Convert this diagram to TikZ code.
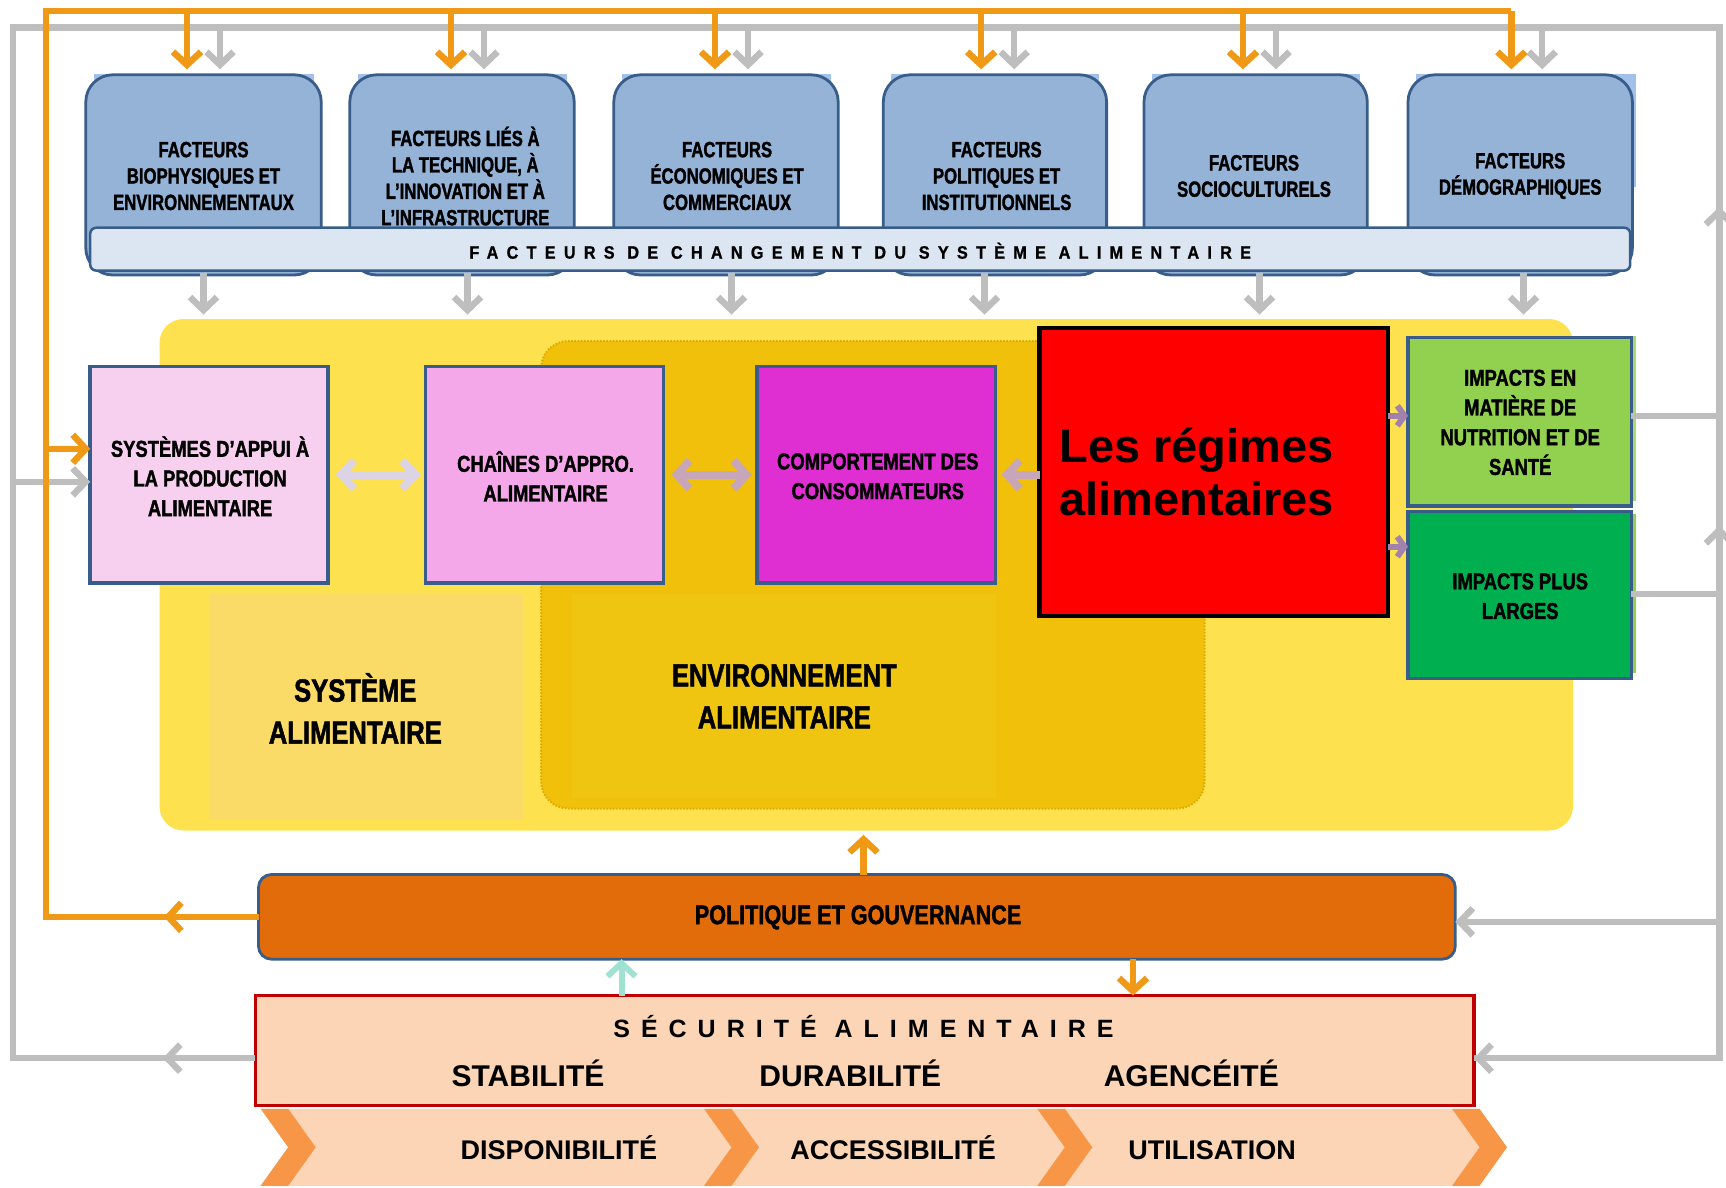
\documentclass[tikz,border=0pt]{standalone}
\usepackage{fontspec}
\setmainfont{Liberation Sans}
\newfontfamily\condf{Liberation Sans Bold}[FakeStretch=0.8,FakeBold=1.5]
\newfontfamily\condg{Liberation Sans Bold}[FakeStretch=0.76,FakeBold=1.5]
\newfontfamily\spacedf{Liberation Sans Bold}[LetterSpace=46,FakeStretch=0.9,FakeBold=1]
\newfontfamily\spacedg{Liberation Sans Bold}[LetterSpace=44]
\usetikzlibrary{arrows.meta,fit}
\definecolor{lgray}{RGB}{190,190,190}
\definecolor{lorange}{RGB}{240,153,22}
\definecolor{fblue}{RGB}{149,179,215}
\definecolor{fborder}{RGB}{56,93,138}
\definecolor{fback}{RGB}{162,192,234}
\definecolor{bannerc}{RGB}{220,230,242}
\definecolor{ybig}{RGB}{253,225,78}
\definecolor{ylight}{RGB}{250,219,104}
\definecolor{envc}{RGB}{241,192,10}
\definecolor{envin}{RGB}{239,197,18}
\definecolor{envdot}{RGB}{222,170,0}
\definecolor{pinka}{RGB}{246,208,238}
\definecolor{pinkb}{RGB}{245,168,233}
\definecolor{magc}{RGB}{223,47,210}
\definecolor{lgreen}{RGB}{146,208,80}
\definecolor{dgreen}{RGB}{0,176,80}
\definecolor{polc}{RGB}{227,108,10}
\definecolor{peach}{RGB}{251,213,181}
\definecolor{chev}{RGB}{247,150,70}
\definecolor{secred}{RGB}{192,0,0}
\definecolor{tealc}{RGB}{160,226,210}
\definecolor{arra}{RGB}{220,211,228}
\definecolor{arrb}{RGB}{200,166,186}
\definecolor{arrc}{RGB}{160,130,172}
\begin{document}
\begin{tikzpicture}[x=1.1pt,y=-1.1pt,
  gline/.style={draw=lgray,line width=6.5pt},
  oline/.style={draw=lorange,line width=6.5pt},
  gt/.tip={Straight Barb[length=13pt,width=27pt]},
  ot/.tip={Straight Barb[length=13pt,width=28pt]},
  pt/.tip={Straight Barb[length=13pt,width=28pt]},
  plain/.style={inner sep=0pt,outer sep=0pt},
  fbox/.style={plain,draw=fborder,fill=fblue,line width=2.8pt,rounded corners=27pt},
  ftxt/.style={inner sep=0pt,font=\condg\fontsize{22}{26.4}\selectfont,align=center},
  sbox/.style={plain,draw=fborder,line width=3.5pt},
  btxt/.style={inner sep=0pt,font=\condf\fontsize{23}{29.7}\selectfont,align=center},
  bigtxt/.style={inner sep=0pt,font=\condf\fontsize{32}{42}\selectfont,align=center},
  sectxt/.style={inner sep=0pt,anchor=base,font=\bfseries\fontsize{30}{32}\selectfont},
  chtxt/.style={inner sep=0pt,anchor=base,font=\bfseries\fontsize{27}{30}\selectfont},
  darr/.style={line width=8pt,{pt}-{pt}},
]
\useasboundingbox (0,0) rectangle (1569.1,1079.1);

% ---------- factor boxes ----------
\node[plain,fill=fback,fit={(85,67) (285,170)}] (fb1) {};
\node[plain,fill=fback,fit={(325,67) (515,170)}] (fb2) {};
\node[plain,fill=fback,fit={(565,67) (755,170)}] (fb3) {};
\node[plain,fill=fback,fit={(810,67) (999,170)}] (fb4) {};
\node[plain,fill=fback,fit={(1047,67) (1236,170)}] (fb5) {};
\node[plain,fill=fback,fit={(1287,67) (1487,170)}] (fb6) {};
\node[fbox,fit={(78,68) (292,250)}] (f1) {};
\node[fbox,fit={(318,68) (522,250)}] (f2) {};
\node[fbox,fit={(558,68) (762,250)}] (f3) {};
\node[fbox,fit={(803,68) (1006,250)}] (f4) {};
\node[fbox,fit={(1040,68) (1243,250)}] (f5) {};
\node[fbox,fit={(1280,68) (1484,250)}] (f6) {};
\node[ftxt] (t1) at (185,160) {FACTEURS\\BIOPHYSIQUES ET\\ENVIRONNEMENTAUX};
\node[ftxt] (t2) at (423,160) {FACTEURS LIÉS À\\LA TECHNIQUE, À\\L’INNOVATION ET À\\L’INFRASTRUCTURE};
\node[ftxt] (t3) at (661,160) {FACTEURS\\ÉCONOMIQUES ET\\COMMERCIAUX};
\node[ftxt] (t4) at (906,160) {FACTEURS\\POLITIQUES ET\\INSTITUTIONNELS};
\node[ftxt] (t5) at (1140,160) {FACTEURS\\SOCIOCULTURELS};
\node[ftxt] (t6) at (1382,160) {FACTEURS\\DÉMOGRAPHIQUES};
\node[plain,fill=bannerc,draw=fborder,line width=2.5pt,rounded corners=6pt,
  fit={(82,207) (1482,246)}] (banner) {};
\node[inner sep=0pt,font=\spacedf\fontsize{18}{20}\selectfont] (bantxt) at (782,228)
  {FACTEURS DE CHANGEMENT DU SYSTÈME ALIMENTAIRE};

% ---------- food system area ----------
\node[plain,fill=ybig,rounded corners=24pt,fit={(145,290) (1430,755)}] (ysys) {};
\node[plain,fill=ylight,fit={(190,540) (475,745)}] (ysl) {};
\node[plain,fill=envc,draw=envdot,line width=2pt,dash pattern=on 1.6pt off 1.6pt,
  rounded corners=27pt,fit={(492,310) (1095,735)}] (env) {};
\node[plain,fill=envin,fit={(520,540) (905,725)}] (envi) {};
\node[bigtxt] (systxt) at (323,644) {SYSTÈME\\ALIMENTAIRE};
\node[bigtxt] (envtxt) at (713,633) {ENVIRONNEMENT\\ALIMENTAIRE};

\node[sbox,fill=pinka,fit={(82,333) (298,530)}] (b1) {};
\node[sbox,fill=pinkb,fit={(387,333) (603,530)}] (b2) {};
\node[sbox,fill=magc,fit={(688,333) (905,530)}] (b3) {};
\node[btxt] (b1t) at (191,433) {SYSTÈMES D’APPUI À\\LA PRODUCTION\\ALIMENTAIRE};
\node[btxt] (b2t) at (496,433) {CHAÎNES D’APPRO.\\ALIMENTAIRE};
\node[btxt] (b3t) at (798,433) {COMPORTEMENT DES\\CONSOMMATEURS};

\node[plain,fill=red,draw=black,line width=4.4pt,fit={(945,298) (1262,560)}] (reg) {};
\node[inner sep=0pt,anchor=west,align=left,font=\bfseries\fontsize{47}{53}\selectfont] (regtxt)
  at (963,429) {Les régimes\\alimentaires};

\node[plain,fill=lgreen!80!white,fit={(1284,305) (1487,455)}] (imp1b) {};
\node[sbox,fill=lgreen,fit={(1280,307) (1483,460)}] (imp1) {};
\node[plain,fill=lgreen,fit={(1284,467) (1487,612)}] (imp2b) {};
\node[sbox,fill=dgreen,fit={(1280,465) (1483,617)}] (imp2) {};
\node[btxt] (imp1t) at (1382,384) {IMPACTS EN\\MATIÈRE DE\\NUTRITION ET DE\\SANTÉ};
\node[btxt] (imp2t) at (1382,542) {IMPACTS PLUS\\LARGES};

% ---------- policy and food security ----------
\node[plain,fill=polc,draw=fborder,line width=2.8pt,rounded corners=13pt,
  fit={(235,795) (1323,872)}] (pol) {};
\node[inner sep=0pt,font=\condf\fontsize{27}{30}\selectfont] (poltxt) at (780,834) {POLITIQUE ET GOUVERNANCE};
\node[plain,fill=peach,draw=secred,line width=3.3pt,fit={(232,905) (1340,1005)}] (sec) {};
\node[inner sep=0pt,font=\spacedg\fontsize{25}{30}\selectfont] (sectitle) at (785,933) {SÉCURITÉ ALIMENTAIRE};
\node[sectxt] (stab) at (480,988) {STABILITÉ};
\node[sectxt] (dura) at (773,988) {DURABILITÉ};
\node[sectxt] (agen) at (1083,988) {AGENCÉITÉ};

\fill[peach] (237,1008) -- (1320,1008) -- (1345,1043) -- (1320,1078) -- (237,1078) -- (262,1043) -- cycle;
\foreach \cx in {237,640,943,1320}
  \fill[chev] (\cx,1008) -- (\cx+25,1008) -- (\cx+50,1043) -- (\cx+25,1078) -- (\cx,1078) -- (\cx+25,1043) -- cycle;
\node[chtxt] (disp) at (508,1054) {DISPONIBILITÉ};
\node[chtxt] (acce) at (812,1054) {ACCESSIBILITÉ};
\node[chtxt] (util) at (1102,1054) {UTILISATION};

% ---------- gray feedback network ----------
\coordinate (gTL) at (12,25);
\coordinate (gTR) at (1563,25);
\coordinate (gBR) at (1563,962);
\coordinate (gBL) at (12,962);
\coordinate (gPR) at (1563,838);
\coordinate (gB1) at (12,438);
\coordinate (gUa) at (1563,240);
\coordinate (gUb) at (1563,530);
\draw[gline] (sec.west |- gBL) -- (gBL) -- (gTL) -- (gTR) -- (gBR) -- (sec.east |- gBR);
\draw[gline,-{gt}] (sec.west |- gBL) -- ++(-84,0);
\draw[gline,-{gt}] (gBR) -- (sec.east |- gBR);
\draw[gline,-{gt}] (gPR) -- (pol.east |- gPR);
\coordinate (ia) at (1483,378);
\coordinate (ib) at (1483,540);
\draw[gline] (ia) -- (ia -| gTR);
\draw[gline] (ib) -- (ib -| gTR);
\draw[gline,-{gt}] (gUa) -- ++(0,-52);
\draw[gline,-{gt}] (gUb) -- ++(0,-52);
\draw[gline,-{gt}] (gB1) -- (gB1 -| b1.west);
\foreach \x in {200,440,680,922,1160,1402}
  \draw[gline,-{gt}] (\x,25) -- (\x,63);
\foreach \i/\x in {1/185,2/425,3/665,4/895,5/1145,6/1385}
  \draw[gline,-{gt}] (\x,248) -- (\x,286);

% ---------- orange policy network ----------
\coordinate (oTL) at (42,10);
\coordinate (oTR) at (1374,10);
\coordinate (oB1) at (42,408);
\draw[oline] (pol.west) -- (pol.west -| oTL) -- (oTL) -- (oTR);
\draw[oline,-{ot}] (pol.west) -- ++(-86,0);
\draw[oline,-{ot}] (oB1) -- (oB1 -| b1.west);
\foreach \x in {170,410,650,892,1130,1374}
  \draw[oline,-{ot}] (\x,10) -- (\x,63);
\coordinate (pU) at (785,795);
\draw[oline,-{ot}] (pU) -- ++(0,-36);
\coordinate (pD) at (1030,872);
\draw[oline,-{ot}] (pD) -- (pD |- sec.north);
\coordinate (sU) at (565,905);
\draw[draw=tealc,line width=6pt,-{ot}] (sU) -- (sU |- pol.south);

% ---------- internal arrows ----------
\draw[darr,draw=arra] ([xshift=8pt]b1.east) -- ([xshift=-5pt]b2.west);
\draw[darr,draw=arrb] ([xshift=8pt]b2.east) -- ([xshift=-5pt]b3.west);
\draw[line width=8pt,draw=arrb,-{pt}] (reg.west |- b3.east) -- ([xshift=6pt]b3.east);
\coordinate (ra) at (1262,378);
\coordinate (rb) at (1262,497);
\draw[line width=6pt,draw=arrc,-{Straight Barb[length=7pt,width=20pt]}] (ra) -- (ra -| imp1.west);
\draw[line width=6pt,draw=arrc,-{Straight Barb[length=7pt,width=20pt]}] (rb) -- (rb -| imp2.west);
\end{tikzpicture}
\end{document}
